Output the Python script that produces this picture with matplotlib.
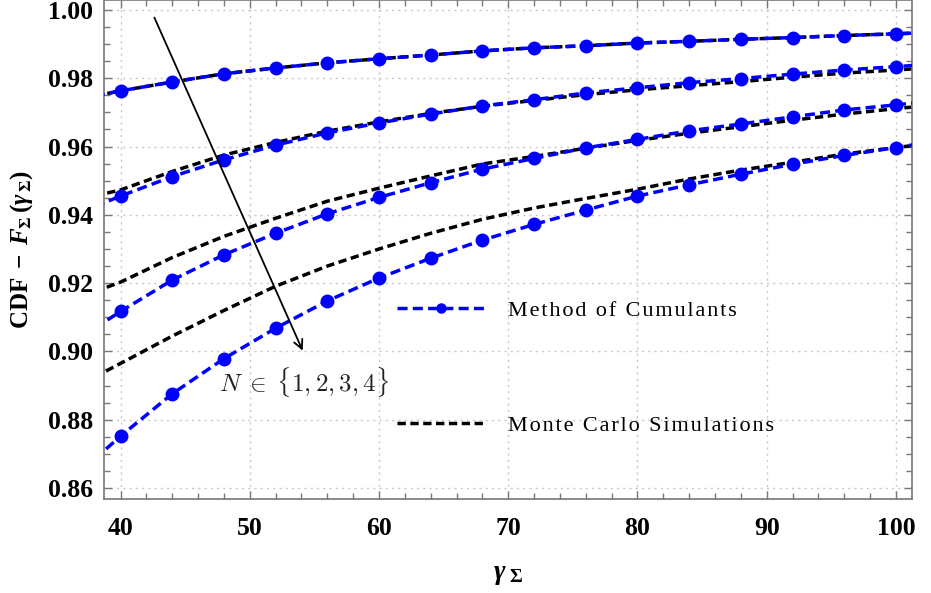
import matplotlib
matplotlib.use("Agg")
import matplotlib.pyplot as plt
from matplotlib.ticker import MultipleLocator

# gamma values; the curves run a little past the axis limits on both sides
gamma = [38, 40, 44, 48, 52, 56, 60, 64, 68, 72, 76, 80, 84, 88, 92, 96, 100, 102]

# method of cumulants (blue, marked at 40..100)
moc_n1 = [0.9748, 0.9763, 0.9789, 0.9813, 0.9830, 0.9845, 0.9857, 0.9868, 0.9880, 0.9889,
          0.9895, 0.9903, 0.9908, 0.9914, 0.9919, 0.9925, 0.9930, 0.9933]
moc_n2 = [0.9424, 0.9455, 0.9512, 0.9561, 0.9604, 0.9640, 0.9669, 0.9695, 0.9719, 0.9737,
          0.9757, 0.9772, 0.9787, 0.9799, 0.9812, 0.9824, 0.9834, 0.9839]
moc_n3 = [0.9068, 0.9117, 0.9209, 0.9283, 0.9346, 0.9403, 0.9451, 0.9494, 0.9534, 0.9565,
          0.9596, 0.9621, 0.9646, 0.9666, 0.9687, 0.9707, 0.9722, 0.9730]
moc_n4 = [0.8685, 0.8752, 0.8876, 0.8979, 0.9068, 0.9148, 0.9215, 0.9273, 0.9326, 0.9372,
          0.9414, 0.9455, 0.9488, 0.9519, 0.9548, 0.9574, 0.9597, 0.9609]

# monte carlo simulations (black)
mc_n1 = moc_n1
mc_n2 = [0.9455, 0.9473, 0.9527, 0.9575, 0.9612, 0.9645, 0.9672, 0.9697, 0.9718, 0.9735,
         0.9752, 0.9766, 0.9778, 0.9790, 0.9803, 0.9815, 0.9824, 0.9829]
mc_n3 = [0.9175, 0.9203, 0.9275, 0.9337, 0.9390, 0.9440, 0.9478, 0.9514, 0.9549, 0.9571,
         0.9595, 0.9618, 0.9639, 0.9658, 0.9677, 0.9695, 0.9711, 0.9718]
mc_n4 = [0.8925, 0.8965, 0.9045, 0.9120, 0.9191, 0.9250, 0.9300, 0.9346, 0.9387, 0.9420,
         0.9448, 0.9475, 0.9505, 0.9531, 0.9554, 0.9578, 0.9597, 0.9606]

moc_curves = [moc_n1, moc_n2, moc_n3, moc_n4]
mc_curves = [mc_n1, mc_n2, mc_n3, mc_n4]

x_ticks = [40, 50, 60, 70, 80, 90, 100]
y_ticks = [0.86, 0.88, 0.90, 0.92, 0.94, 0.96, 0.98, 1.00]

plt.rcParams["font.family"] = "Liberation Serif"
plt.rcParams["mathtext.fontset"] = "custom"
plt.rcParams["mathtext.rm"] = "Liberation Serif:bold"
plt.rcParams["mathtext.bf"] = "Liberation Serif:bold"
plt.rcParams["mathtext.it"] = "Liberation Serif:bold:italic"

fig = plt.figure(figsize=(9.31, 5.93), dpi=100)
ax = fig.add_axes([0.1117, 0.1585, 0.8679, 0.8415])

for i in range(4):
    ax.plot(gamma, mc_curves[i], color="black", lw=2.5, dashes=(2.4, 1.3),
            label="Monte Carlo Simulations" if i == 0 else None, zorder=2)
for i in range(4):
    ax.plot(gamma, moc_curves[i], color="blue", lw=2.5, dashes=(2.9, 1.5),
            marker="o", markersize=9, markevery=slice(1, -1),
            label="Method of Cumulants" if i == 0 else None, zorder=3)

ax.set_xlim(38.72, 101.24)
ax.set_ylim(0.8568, 1.0029)
ax.set_xticks(x_ticks)
ax.set_yticks(y_ticks)
ax.set_yticklabels(["%.2f" % v for v in y_ticks])
ax.xaxis.set_minor_locator(MultipleLocator(2))
ax.yaxis.set_minor_locator(MultipleLocator(0.005))
ax.tick_params(which="both", direction="in", top=True, right=True, color="#777777")
ax.tick_params(which="major", length=6, width=1)
ax.tick_params(which="minor", length=4, width=1)
ax.tick_params(axis="x", which="major", pad=13)
ax.tick_params(axis="y", which="major", pad=8)
for lab in ax.get_xticklabels() + ax.get_yticklabels():
    lab.set_fontsize(18.5)
    lab.set_fontweight("bold")
for s in ax.spines.values():
    s.set_color("#777777")
    s.set_linewidth(1.2)

ax.grid(True, which="major", color="#c8c8c8", linestyle=(0, (1.5, 3)), lw=1)

ax.set_xlabel(r"$\gamma_{\ \Sigma}$", fontsize=20, labelpad=16)
ax.set_ylabel(r"CDF$\;-\;$$F_{\Sigma}\,(\gamma_{\,\Sigma})$", fontsize=18,
              fontweight="bold", labelpad=9)

# arrow for increasing N
ax.annotate("", xy=(54.18, 0.8995), xytext=(42.53, 0.9985),
            arrowprops=dict(arrowstyle="->", lw=1.3, color="black", mutation_scale=16))
ax.text(47.6, 0.8912, r"$N\;\in\;\{1,2,3,4\}$", fontsize=18, ha="left", va="center",
        math_fontfamily="cm", color="#222222")

# legend, letter spaced like the original
h, l = ax.get_legend_handles_labels()
order = [1, 0]
labels = ["\u200a".join(l[k]) for k in order]
leg = ax.legend([h[k] for k in order], labels, loc="center left",
                bbox_to_anchor=(0.3626, 0.262), bbox_transform=ax.transAxes,
                frameon=False, borderpad=0, borderaxespad=0, handlelength=4.0,
                handletextpad=1.0, labelspacing=4.25, numpoints=1,
                prop={"family": "Liberation Serif", "size": 16, "weight": "normal"})
for lh in leg.legend_handles:
    lh.set_markersize(6.5)

fig.savefig("out.png", dpi=100)
